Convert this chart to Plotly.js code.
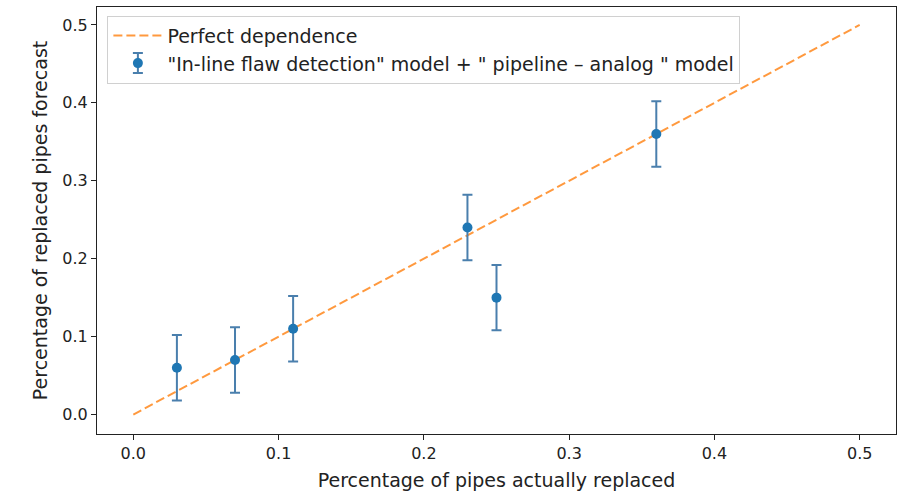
<!DOCTYPE html>
<html>
<head>
<meta charset="utf-8">
<script src="https://cdn.plot.ly/plotly-3.0.1.min.js"></script>
<style>
  html, body { margin: 0; padding: 0; background: #fff; }
  #chart { width: 907px; height: 494px; }
</style>
</head>
<body>
<div id="chart"></div>
<script>
// Share of pipes actually replaced vs. share forecast by the combined model
const actualShare = [0.03, 0.07, 0.11, 0.23, 0.25, 0.36];
const forecastShare = [0.06, 0.07, 0.11, 0.24, 0.15, 0.36];
const forecastError = [0.042, 0.042, 0.042, 0.042, 0.042, 0.042];

// Reference diagonal y = x
const diagonalX = [0.0, 0.5];
const diagonalY = [0.0, 0.5];

const tickValues = [0.0, 0.1, 0.2, 0.3, 0.4, 0.5];
const tickLabels = ['0.0', '0.1', '0.2', '0.3', '0.4', '0.5'];

const font = 'DejaVu Sans, sans-serif';
const ink = '#222';
const errColor = '#4a7fad';

const traces = [
  {
    x: diagonalX,
    y: diagonalY,
    mode: 'lines',
    name: 'Perfect dependence',
    legendgroup: 'a',
    line: { color: 'rgba(255,127,14,0.8)', width: 2, dash: '9px,4px' },
    hoverinfo: 'skip'
  },
  {
    x: actualShare,
    y: forecastShare,
    mode: 'markers',
    name: '"In-line flaw detection" model + " pipeline \u2013 analog " model',
    legendgroup: 'b',
    marker: { color: '#1f77b4', size: 10 },
    error_y: {
      type: 'data',
      array: forecastError,
      visible: true,
      color: errColor,
      thickness: 2,
      width: 5
    }
  }
];

const axisCommon = {
  tickvals: tickValues,
  ticktext: tickLabels,
  ticks: 'outside',
  ticklen: 5,
  tickwidth: 1,
  tickcolor: ink,
  showline: true,
  linecolor: ink,
  linewidth: 1,
  mirror: true,
  showgrid: false,
  zeroline: false,
  tickfont: { family: font, size: 16, color: ink }
};

const layout = {
  width: 907,
  height: 494,
  margin: { l: 97, r: 11, t: 7, b: 60 },
  paper_bgcolor: '#fff',
  plot_bgcolor: '#fff',
  showlegend: true,
  font: { family: font, color: ink },
  xaxis: Object.assign({}, axisCommon, {
    range: [-0.025, 0.525],
    title: { text: 'Percentage of pipes actually replaced', font: { family: font, size: 19, color: ink }, standoff: 11 }
  }),
  yaxis: Object.assign({}, axisCommon, {
    range: [-0.025, 0.523],
    title: { text: 'Percentage of replaced pipes forecast', font: { family: font, size: 19, color: ink }, standoff: 9 }
  }),
  legend: {
    x: 0.013,
    y: 0.98,
    xanchor: 'left',
    yanchor: 'top',
    bgcolor: 'rgba(255,255,255,0.8)',
    bordercolor: '#d0d0d0',
    borderwidth: 1,
    font: { family: font, size: 19, color: ink },
    traceorder: 'grouped',
    tracegroupgap: 0,
    itemwidth: 49
  }
};

// Legend key for the forecast series: add its error bar glyph behind the dot
function addLegendErrorBar(gd) {
  const items = gd.querySelectorAll('.legend .traces');
  if (items.length < 2) return;
  const pts = items[1].querySelector('.legendpoints');
  if (!pts) return;
  const dot = pts.querySelector('path.scatterpts');
  const tr = dot ? (dot.getAttribute('transform') || '') : 'translate(20,0)';
  const ns = 'http://www.w3.org/2000/svg';
  const bar = document.createElementNS(ns, 'path');
  bar.setAttribute('d', 'M-5,-10H5M0,-10V10M-5,10H5');
  bar.setAttribute('transform', tr);
  bar.setAttribute('style', 'fill:none;stroke:' + errColor + ';stroke-width:2px');
  pts.insertBefore(bar, pts.firstChild);
}

Plotly.newPlot('chart', traces, layout, { displayModeBar: false, staticPlot: true })
  .then(addLegendErrorBar);
</script>
</body>
</html>
